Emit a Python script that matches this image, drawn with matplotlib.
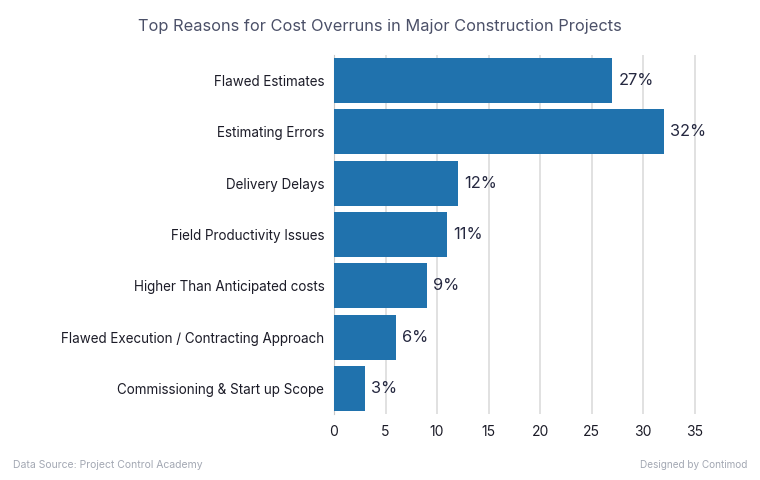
import matplotlib.pyplot as plt

categories = ['Flawed Estimates', 'Estimating Errors', 'Delivery Delays',
              'Field Productivity Issues', 'Higher Than Anticipated costs',
              'Flawed Execution / Contracting Approach', 'Commissioning & Start up Scope']
values = [27, 32, 12, 11, 9, 6, 3]
ticks = [0, 5, 10, 15, 20, 25, 30, 35]

plt.rcParams['font.family'] = ['Inter', 'DejaVu Sans']

fig = plt.figure(figsize=(7.6, 4.8), dpi=100)
ax = fig.add_axes([334 / 760, 1 - 414 / 480, 371 / 760, 359 / 480])

# Bars, top to bottom
pos = list(range(len(categories)))
ax.barh(pos, values, height=0.877, color='#2072ad', zorder=3)
ax.set_ylim(len(categories) - 0.5, -0.5)
ax.set_xlim(0, 36)

for p, v in zip(pos, values):
    ax.text(v + 0.6, p, f'{v}%', va='center', ha='left', fontsize=11.8, color='#252840')

ax.set_yticks(pos)
ax.set_yticklabels(categories, fontsize=9.7, color='#1c1c28')
ax.set_xticks(ticks)
ax.set_xticklabels([str(t) for t in ticks], fontsize=10, color='#1c1c28')
ax.tick_params(length=0, pad=8)
ax.tick_params(axis='y', pad=7)

ax.grid(axis='x', color='#d8d8d8', linewidth=1.1, zorder=0)
for s in ['top', 'right', 'bottom']:
    ax.spines[s].set_visible(False)
ax.spines['left'].set_color('#c8c8c8')

fig.text(0.5, 1 - 26 / 480, 'Top Reasons for Cost Overruns in Major Construction Projects',
         ha='center', va='center', fontsize=11.8, color='#4b5068')
fig.text(13 / 760, 1 - 465 / 480, 'Data Source: Project Control Academy',
         ha='left', va='center', fontsize=7.5, color='#a3a8b3')
fig.text(747 / 760, 1 - 465 / 480, 'Designed by Contimod',
         ha='right', va='center', fontsize=7.2, color='#a3a8b3')

plt.savefig('out.png', dpi=100)
